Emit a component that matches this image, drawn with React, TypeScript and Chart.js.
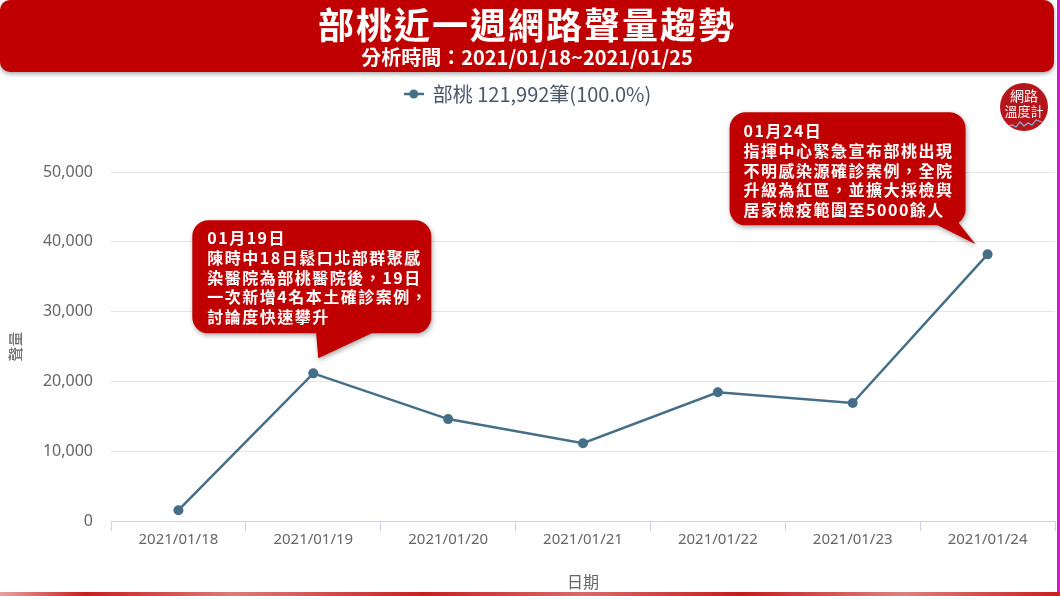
import React, { useEffect, useRef } from 'react';
import { Chart, registerables } from 'chart.js';

Chart.register(...registerables);

// ---- data ----
const categories = ['2021/01/18', '2021/01/19', '2021/01/20', '2021/01/21', '2021/01/22', '2021/01/23', '2021/01/24'];
const seriesName = '部桃';
const seriesValues = [1550, 21150, 14600, 11150, 18450, 16900, 38200];
const legendLabel = '部桃 121,992筆(100.0%)';
const yTickValues = [0, 10000, 20000, 30000, 40000, 50000];
const titleText = '部桃近一週網路聲量趨勢';
const subtitleText = '分析時間：2021/01/18~2021/01/25';
const xAxisTitle = '日期';
const yAxisTitle = '聲量';
const noteIndexes = [1, 6];
const noteTexts = [
  ['01月19日', '陳時中18日鬆口北部群聚感', '染醫院為部桃醫院後，19日', '一次新增4名本土確診案例，', '討論度快速攀升'],
  ['01月24日', '指揮中心緊急宣布部桃出現', '不明感染源確診案例，全院', '升級為紅區，並擴大採檢與', '居家檢疫範圍至5000餘人'],
];

// ---- styles ----
const LINE_COLOR = '#456f88';
const RED = '#c00000';
const CJK = '"Noto Sans CJK TC", "Noto Sans", sans-serif';
const NUM = '"Noto Sans", "Noto Sans CJK TC", sans-serif';

const calloutLayout = [
  { dx: -121, dy: -153, w: 239, h: 113, padX: 15, firstY: 18, baseL: 2, baseR: 80, tipDx: 5, tipDy: -15 },
  { dx: -258, dy: -142, w: 236, h: 113, padX: 14, firstY: 19, baseL: -70, baseR: -35, tipDx: -12, tipDy: -10 },
];

function makeLegendMarker(): HTMLCanvasElement {
  const c = document.createElement('canvas');
  c.width = 20;
  c.height = 12;
  const g = c.getContext('2d')!;
  g.strokeStyle = LINE_COLOR;
  g.lineWidth = 2.5;
  g.beginPath();
  g.moveTo(0, 6);
  g.lineTo(20, 6);
  g.stroke();
  g.fillStyle = LINE_COLOR;
  g.beginPath();
  g.arc(10, 6, 4.5, 0, Math.PI * 2);
  g.fill();
  return c;
}

const calloutPlugin = {
  id: 'callouts',
  afterDatasetsDraw(chart: any) {
    const ctx = chart.ctx as CanvasRenderingContext2D;
    const xs = chart.scales.x;
    const ys = chart.scales.y;
    noteIndexes.forEach((idx, k) => {
      const L = calloutLayout[k];
      const px = xs.getPixelForValue(idx);
      const py = ys.getPixelForValue(seriesValues[idx]);
      const bx = px + L.dx;
      const by = py + L.dy;
      ctx.save();
      ctx.shadowColor = 'rgba(0,0,0,0.35)';
      ctx.shadowBlur = 5;
      ctx.shadowOffsetX = 1;
      ctx.shadowOffsetY = 2;
      ctx.fillStyle = RED;
      ctx.beginPath();
      (ctx as any).roundRect(bx, by, L.w, L.h, 16);
      ctx.moveTo(px + L.baseR, by + L.h - 10);
      ctx.lineTo(px + L.tipDx, py + L.tipDy);
      ctx.lineTo(px + L.baseL, by + L.h - 10);
      ctx.closePath();
      ctx.fill();
      ctx.restore();

      ctx.save();
      ctx.fillStyle = '#ffffff';
      ctx.font = `bold 16px ${CJK}`;
      (ctx as any).letterSpacing = '1.5px';
      ctx.textBaseline = 'middle';
      ctx.textAlign = 'left';
      noteTexts[k].forEach((line, i) => {
        ctx.fillText(line, bx + L.padX, by + L.firstY + i * 19.6);
      });
      ctx.restore();
    });
  },
};

export default function App() {
  const ref = useRef<HTMLCanvasElement>(null);

  useEffect(() => {
    if (!ref.current) return;
    const marker = makeLegendMarker();
    const chart = new Chart(ref.current, {
      type: 'line',
      data: {
        labels: categories,
        datasets: [
          {
            label: seriesName,
            data: seriesValues,
            borderColor: LINE_COLOR,
            backgroundColor: LINE_COLOR,
            borderWidth: 2.5,
            pointRadius: 5,
            pointBackgroundColor: LINE_COLOR,
            pointBorderWidth: 0,
            tension: 0,
          },
        ],
      },
      options: {
        responsive: false,
        animation: false,
        layout: { padding: { top: 72, left: 0, right: 4, bottom: 0 } },
        plugins: {
          tooltip: { enabled: false },
          legend: {
            display: true,
            position: 'top',
            labels: {
              usePointStyle: true,
              pointStyleWidth: 18,
              padding: 12,
              color: '#4a5868',
              font: { size: 20, family: CJK },
              generateLabels: () => [
                {
                  text: legendLabel,
                  fillStyle: LINE_COLOR,
                  strokeStyle: LINE_COLOR,
                  lineWidth: 0,
                  pointStyle: marker as any,
                  hidden: false,
                  datasetIndex: 0,
                  fontColor: '#4a5868',
                } as any,
              ],
            },
          },
          title: {
            display: true,
            text: '',
            position: 'top',
            weight: 500,
            font: { size: 10, lineHeight: 1 },
            padding: { top: 48, bottom: 0 },
          } as any,
        },
        scales: {
          x: {
            type: 'category',
            offset: true,
            afterFit: (s: any) => {
              s.height = 75;
            },
            grid: {
              display: true,
              offset: true,
              drawOnChartArea: false,
              drawTicks: true,
              tickLength: 10,
              color: '#ccd6eb',
            },
            border: { display: true, color: '#ccd6eb', width: 1 },
            ticks: {
              color: '#666666',
              padding: 0,
              maxRotation: 0,
              autoSkip: false,
              font: { size: 15, family: NUM },
            },
            title: {
              display: true,
              text: xAxisTitle,
              color: '#666666',
              font: { size: 16, family: CJK },
              padding: { top: 4, bottom: 4 },
            },
          },
          y: {
            min: 0,
            max: 50000,
            afterFit: (s: any) => {
              s.width = 111;
            },
            afterBuildTicks: (s: any) => {
              s.ticks = yTickValues.map((v) => ({ value: v }));
            },
            grid: { color: '#e6e6e6', drawTicks: false, lineWidth: 1 },
            border: { display: false },
            ticks: {
              color: '#666666',
              padding: 18,
              font: { size: 16, family: NUM },
              callback: (v: any) => Number(v).toLocaleString('en-US'),
            },
            title: {
              display: true,
              text: yAxisTitle,
              color: '#666666',
              font: { size: 15, family: CJK },
              padding: { top: 6, bottom: 0 },
            },
          },
        },
      },
      plugins: [calloutPlugin],
    });
    return () => chart.destroy();
  }, []);

  return (
    <div
      style={{
        position: 'fixed',
        left: 0,
        top: 0,
        width: 1060,
        height: 596,
        background: '#ffffff',
        overflow: 'hidden',
      }}
    >
      <canvas ref={ref} width={1060} height={596} style={{ position: 'absolute', left: 0, top: 0 }} />
      <div
        style={{
          position: 'absolute',
          left: 0,
          top: 0,
          width: 1054,
          height: 72,
          background: RED,
          borderRadius: 10,
          boxShadow: '0 2px 4px rgba(0,0,0,0.35)',
          color: '#ffffff',
          textAlign: 'center',
          fontFamily: CJK,
        }}
      >
        <div
          style={{
            position: 'absolute',
            left: 0,
            right: 0,
            top: 2,
            height: 42,
            lineHeight: '42px',
            fontSize: 36,
            fontWeight: 'bold',
            letterSpacing: 2,
          }}
        >
          {titleText}
        </div>
        <div
          style={{
            position: 'absolute',
            left: 0,
            right: 0,
            top: 45,
            height: 24,
            lineHeight: '24px',
            fontSize: 20,
            fontWeight: 'bold',
          }}
        >
          {subtitleText}
        </div>
      </div>
      <div
        style={{
          position: 'absolute',
          left: 1000,
          top: 83,
          width: 48,
          height: 48,
          borderRadius: '50%',
          background: '#b5161c',
          color: '#ffffff',
          fontFamily: CJK,
          fontSize: 14,
          lineHeight: '16px',
          textAlign: 'center',
          overflow: 'hidden',
        }}
      >
        <div style={{ marginTop: 4 }}>網路</div>
        <div style={{ fontSize: 13 }}>溫度計</div>
        <svg width="48" height="10" style={{ position: 'absolute', left: 0, top: 36 }}>
          <polyline
            points="6,8 12,6 16,8 20,3 24,7 28,4 32,6 36,1 42,3"
            fill="none"
            stroke="#8fb0e0"
            strokeWidth="1.2"
          />
        </svg>
      </div>
      <div
        style={{
          position: 'absolute',
          left: 1057,
          top: 0,
          width: 3,
          height: 596,
          background: '#d21ad2',
        }}
      />
      <div
        style={{
          position: 'absolute',
          left: 0,
          top: 592,
          width: 1060,
          height: 4,
          background:
            'linear-gradient(90deg, #e6a3a3 0%, #c81e1e 8%, #dc7a7a 22%, #c62020 40%, #d86a6a 55%, #c41c1c 70%, #dd8080 85%, #c81e1e 100%)',
        }}
      />
    </div>
  );
}
